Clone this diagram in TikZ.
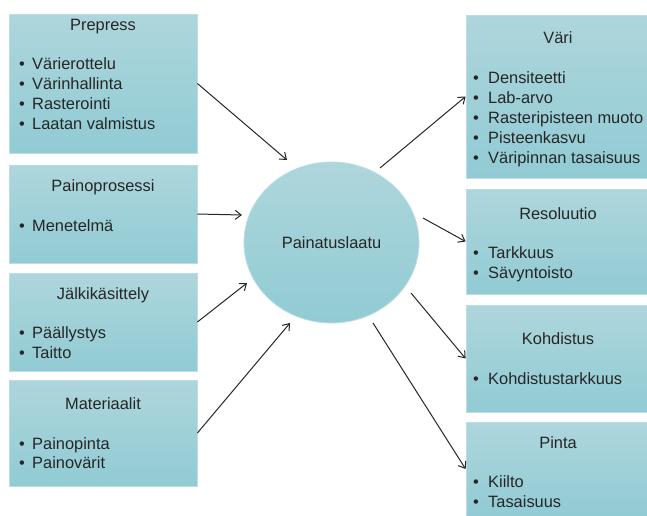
\documentclass[tikz,border=0pt]{standalone}
\usepackage{fontspec}
\setmainfont{Liberation Sans}
\usetikzlibrary{arrows.meta,shapes.geometric}
\definecolor{boxtop}{RGB}{174,214,220}
\definecolor{boxbot}{RGB}{145,203,212}
\definecolor{boxedge}{RGB}{186,222,227}
\definecolor{ink}{RGB}{38,38,38}
\tikzset{
  panel/.style={draw=boxedge,line width=0.8pt,top color=boxtop,bottom color=boxbot,inner sep=0pt},
  blob/.style={ellipse,draw=boxedge,line width=0.8pt,top color=boxtop,bottom color=boxbot,inner sep=0pt,
    minimum width=175,minimum height=161,font=\fontsize{16.4}{20}\selectfont,text=ink},
  ttl/.style={inner sep=0pt,anchor=base,font=\fontsize{16.4}{20}\selectfont,text=ink},
  txt/.style={inner sep=0pt,anchor=base west,font=\fontsize{16.4}{20}\selectfont,text=ink},
  dot/.style={inner sep=0pt,anchor=base,font=\fontsize{16.4}{20}\selectfont,text=ink},
  link/.style={draw=ink,line width=1pt,-{Straight Barb[length=6pt,width=9pt]}}
}
\begin{document}
\begin{tikzpicture}[x=1pt,y=-1pt]
\useasboundingbox (0,0) rectangle (647,515);
\coordinate (in1) at (287,160);
\coordinate (in2) at (242,215);
\coordinate (in3) at (247,283);
\coordinate (in4) at (290,323);
\coordinate (out1) at (380,168);
\coordinate (out2) at (423,218);
\coordinate (out3) at (411,293);
\coordinate (out4) at (373,323);

\node[panel,minimum width=188,minimum height=139] (prepress) at (103,83.5) {};
\node[panel,minimum width=188,minimum height=98] (paino) at (103,214) {};
\node[panel,minimum width=188,minimum height=98] (jalki) at (103,322) {};
\node[panel,minimum width=188,minimum height=106] (mater) at (103,433) {};
\node[panel,minimum width=182,minimum height=163] (vari) at (557,96.5) {};
\node[panel,minimum width=182,minimum height=105] (resol) at (557,241.5) {};
\node[panel,minimum width=182,minimum height=107] (kohd) at (557,358.5) {};
\node[panel,minimum width=182,minimum height=94] (pinta) at (557,469) {};
\node[blob] (laatu) at (331.5,242.5) {Painatuslaatu};

\node[ttl] (prepress-t) at (103,30) {Prepress};
\node[ttl] (paino-t) at (103,191) {Painoprosessi};
\node[ttl] (jalki-t) at (103,299) {Jälkikäsittely};
\node[ttl] (mater-t) at (103,409) {Materiaalit};
\node[ttl] (vari-t) at (558,43) {Väri};
\node[ttl] (resol-t) at (558,219) {Resoluutio};
\node[ttl] (kohd-t) at (558,344) {Kohdistus};
\node[ttl] (pinta-t) at (558,448) {Pinta};

\foreach \y/\t [count=\i] in {69/Värierottelu,89/Värinhallinta,109/Rasterointi,129/Laatan valmistus,
  231/Menetelmä,338/Päällystys,358/Taitto,449/Painopinta,468/Painovärit}{
  \node[dot] (ld\i) at (22,\y) {•};
  \node[txt] (lt\i) at (32,\y) {\t};
}
\foreach \y/\t [count=\i] in {83/Densiteetti,103/Lab-arvo,123/Rasteripisteen muoto,143/Pisteenkasvu,
  163/Väripinnan tasaisuus,258/Tarkkuus,278/Sävyntoisto,384/Kohdistustarkkuus,487/Kiilto,507/Tasaisuus}{
  \node[dot] (rd\i) at (476,\y) {•};
  \node[txt] (rt\i) at (488,\y) {\t};
}

\draw[link] (prepress.east) -- (in1);
\draw[link] (paino.east) -- (in2);
\draw[link] (jalki.east) -- (in3);
\draw[link] (mater.east) -- (in4);
\draw[link] (out1) -- (vari.west);
\draw[link] (out2) -- (resol.west);
\draw[link] (out3) -- (kohd.west);
\draw[link] (out4) -- (pinta.west);
\end{tikzpicture}
\end{document}
